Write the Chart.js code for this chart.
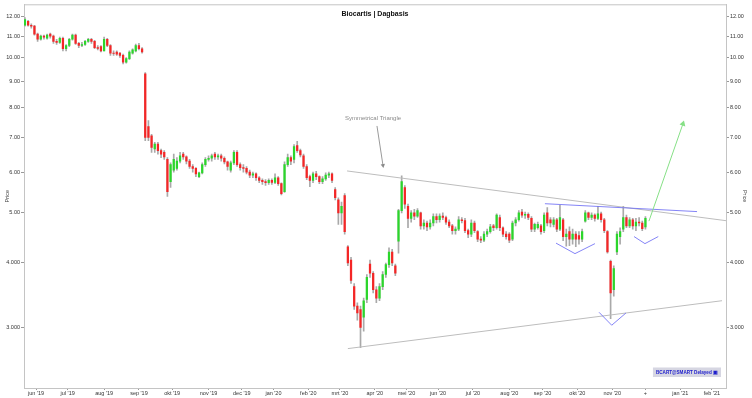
<!DOCTYPE html>
<html>
<head>
<meta charset="utf-8">
<script src="https://cdn.jsdelivr.net/npm/chart.js@4.4.0/dist/chart.umd.min.js"></script>
<style>
  html, body { margin: 0; padding: 0; background: #fff; }
  canvas { display: block; }
</style>
</head>
<body>
<canvas id="chart" width="752" height="398"></canvas>
<script>
/* Biocartis daily candles, one candle per 2 trading sessions (session 0 = 3 jun 2019) */
const FIRST_SESSION = -7;
const SESSION_STEP = 2;

const opens = [
  11.55, 11.75, 11.55, 11.5, 11.1, 10.85, 11.0, 10.9, 11.1, 11.0,
  10.75, 10.7, 10.9, 10.4, 10.55, 10.85, 11.05, 10.65, 10.55, 10.6,
  10.75, 10.85, 10.75, 10.45, 10.5, 10.3, 10.85, 10.55, 10.2, 10.25,
  10.2, 10.1, 9.8, 9.95, 10.2, 10.3, 10.55, 10.4, 9.3, 7.35,
  7.05, 6.65, 6.8, 6.6, 6.55, 6.35, 5.75, 6.05, 6.1, 6.3,
  6.5, 6.42, 6.3, 6.15, 6.1, 5.88, 5.98, 6.2, 6.35, 6.38,
  6.5, 6.42, 6.45, 6.38, 6.28, 6.05, 6.25, 6.55, 6.2, 6.12,
  6.1, 6.0, 5.92, 5.95, 5.85, 5.78, 5.75, 5.72, 5.78, 5.73,
  5.85, 5.7, 5.5, 6.2, 6.4, 6.35, 6.75, 6.6, 6.45, 6.15,
  5.88, 5.78, 5.95, 5.88, 5.75, 5.82, 5.92, 5.95, 5.55, 5.3,
  5.0, 5.4, 4.3, 4.05, 3.6, 3.3, 3.25, 3.14, 3.4, 3.98,
  3.82, 3.55, 3.42, 3.6, 3.8, 3.97, 4.2, 3.95, 4.41, 5.05,
  5.6, 5.15, 4.88, 5.0, 4.93, 5.0, 4.72, 4.78, 4.7, 4.78,
  4.92, 4.85, 4.93, 4.9, 4.8, 4.72, 4.62, 4.65, 4.85, 4.83,
  4.62, 4.55, 4.78, 4.6, 4.45, 4.43, 4.55, 4.6, 4.72, 4.68,
  4.9, 4.68, 4.55, 4.55, 4.45, 4.78, 4.85, 5.02, 4.95, 4.97,
  4.88, 4.65, 4.68, 4.72, 4.62, 5.0, 4.85, 4.75, 4.85, 4.65,
  4.85, 4.5, 4.6, 4.45, 4.55, 4.52, 4.45, 4.82, 5.0, 4.9,
  4.95, 4.88, 4.98, 4.85, 4.6, 4.03, 3.55, 4.2, 4.5, 4.65,
  4.9, 4.72, 4.85, 4.72, 4.8, 4.78, 4.7
];
const highs = [
  11.95, 11.8, 11.62, 11.55, 11.15, 11.05, 11.05, 11.1, 11.15, 11.05,
  10.85, 10.95, 10.95, 10.6, 10.9, 11.1, 11.1, 10.7, 10.7, 10.8,
  10.9, 10.9, 10.8, 10.55, 10.55, 10.95, 10.9, 10.6, 10.3, 10.3,
  10.22, 10.15, 10.0, 10.3, 10.4, 10.62, 10.65, 10.45, 9.35, 7.55,
  7.1, 6.85, 6.85, 6.65, 6.6, 6.4, 6.25, 6.5, 6.4, 6.55,
  6.55, 6.45, 6.35, 6.2, 6.12, 6.0, 6.25, 6.4, 6.45, 6.5,
  6.55, 6.5, 6.5, 6.42, 6.3, 6.3, 6.6, 6.6, 6.25, 6.2,
  6.15, 6.05, 6.0, 5.98, 5.88, 5.82, 5.8, 5.82, 5.82, 5.95,
  5.88, 5.72, 6.28, 6.5, 6.45, 6.78, 6.88, 6.65, 6.5, 6.2,
  5.92, 6.0, 6.02, 5.9, 5.88, 5.98, 6.0, 5.98, 5.6, 5.35,
  5.25, 5.45, 4.32, 4.1, 3.65, 3.35, 3.3, 3.42, 3.8, 4.05,
  3.85, 3.6, 3.65, 3.85, 4.0, 4.28, 4.25, 3.98, 5.08, 5.9,
  5.65, 5.2, 5.05, 5.08, 5.1, 5.02, 4.85, 4.82, 4.85, 4.98,
  4.98, 4.98, 5.0, 4.93, 4.85, 4.75, 4.7, 4.92, 4.9, 4.88,
  4.65, 4.85, 4.82, 4.62, 4.5, 4.6, 4.65, 4.75, 4.75, 4.98,
  4.95, 4.7, 4.6, 4.58, 4.82, 4.9, 5.05, 5.08, 5.02, 5.0,
  4.92, 4.78, 4.8, 4.75, 5.0, 5.12, 4.9, 4.9, 4.88, 5.17,
  4.88, 4.65, 4.7, 4.65, 4.6, 4.6, 4.65, 5.05, 5.02, 5.0,
  4.98, 5.15, 5.02, 4.88, 4.62, 4.05, 3.95, 4.6, 4.68, 5.15,
  4.95, 4.9, 4.88, 4.88, 4.9, 4.82, 4.92
];
const lows = [
  11.5, 11.5, 11.4, 11.05, 10.75, 10.8, 10.85, 10.85, 10.9, 10.65,
  10.6, 10.65, 10.3, 10.3, 10.5, 10.8, 10.6, 10.45, 10.5, 10.55,
  10.7, 10.65, 10.4, 10.35, 10.25, 10.3, 10.5, 10.1, 10.1, 10.1,
  10.0, 9.72, 9.75, 9.9, 10.15, 10.25, 10.35, 10.2, 6.9, 6.9,
  6.55, 6.55, 6.5, 6.4, 6.35, 5.38, 5.6, 6.0, 6.05, 6.25,
  6.35, 6.22, 6.1, 6.0, 5.88, 5.85, 5.95, 6.15, 6.3, 6.3,
  6.35, 6.35, 6.3, 6.22, 6.05, 6.0, 6.2, 6.15, 6.05, 6.0,
  5.95, 5.85, 5.85, 5.78, 5.72, 5.68, 5.65, 5.68, 5.68, 5.7,
  5.65, 5.42, 5.48, 6.15, 6.2, 6.25, 6.55, 6.42, 6.1, 5.8,
  5.62, 5.72, 5.8, 5.7, 5.7, 5.78, 5.85, 5.72, 5.3, 4.75,
  4.75, 4.55, 3.95, 3.65, 3.25, 3.1, 2.74, 2.95, 3.35, 3.75,
  3.5, 3.35, 3.38, 3.55, 3.75, 3.92, 3.95, 3.78, 4.18, 5.0,
  5.1, 4.68, 4.8, 4.85, 4.9, 4.65, 4.65, 4.62, 4.65, 4.72,
  4.78, 4.8, 4.85, 4.75, 4.68, 4.55, 4.55, 4.62, 4.78, 4.58,
  4.48, 4.5, 4.58, 4.4, 4.38, 4.4, 4.5, 4.57, 4.62, 4.65,
  4.62, 4.5, 4.45, 4.38, 4.42, 4.72, 4.82, 4.9, 4.88, 4.85,
  4.6, 4.6, 4.65, 4.55, 4.58, 4.72, 4.7, 4.7, 4.6, 4.62,
  4.42, 4.31, 4.32, 4.35, 4.3, 4.35, 4.4, 4.8, 4.85, 4.85,
  4.82, 4.85, 4.8, 4.58, 4.18, 3.12, 3.45, 4.15, 4.35, 4.6,
  4.68, 4.68, 4.65, 4.62, 4.72, 4.62, 4.65
];
const closes = [
  11.85, 11.55, 11.5, 11.1, 10.85, 11.0, 10.95, 11.05, 11.0, 10.75,
  10.7, 10.9, 10.4, 10.55, 10.85, 11.05, 10.65, 10.55, 10.6, 10.75,
  10.85, 10.75, 10.45, 10.42, 10.3, 10.85, 10.55, 10.2, 10.18, 10.15,
  10.1, 9.8, 9.95, 10.25, 10.35, 10.55, 10.4, 10.25, 7.0, 7.0,
  6.7, 6.8, 6.6, 6.5, 6.42, 5.5, 6.2, 6.35, 6.3, 6.45,
  6.42, 6.3, 6.15, 6.1, 5.95, 5.98, 6.2, 6.35, 6.38, 6.45,
  6.42, 6.45, 6.38, 6.28, 6.15, 6.25, 6.55, 6.2, 6.12, 6.1,
  6.0, 5.92, 5.95, 5.85, 5.78, 5.75, 5.72, 5.78, 5.73, 5.85,
  5.7, 5.45, 6.2, 6.4, 6.3, 6.72, 6.6, 6.48, 6.15, 5.85,
  5.78, 5.95, 5.88, 5.75, 5.82, 5.92, 5.95, 5.78, 5.35, 5.0,
  5.15, 4.6, 4.0, 3.7, 3.3, 3.2, 3.0, 3.38, 3.75, 3.82,
  3.55, 3.42, 3.6, 3.8, 3.97, 4.2, 4.0, 3.82, 5.05, 5.75,
  5.2, 4.88, 5.0, 4.93, 5.05, 4.72, 4.78, 4.7, 4.78, 4.92,
  4.85, 4.93, 4.9, 4.8, 4.72, 4.62, 4.65, 4.85, 4.83, 4.62,
  4.55, 4.78, 4.62, 4.45, 4.43, 4.55, 4.6, 4.7, 4.68, 4.95,
  4.68, 4.55, 4.5, 4.43, 4.78, 4.85, 5.0, 4.95, 4.97, 4.9,
  4.65, 4.75, 4.75, 4.6, 4.95, 4.78, 4.78, 4.85, 4.65, 4.9,
  4.5, 4.55, 4.45, 4.55, 4.45, 4.45, 4.6, 5.0, 4.9, 4.95,
  4.88, 4.98, 4.85, 4.62, 4.2, 3.5, 3.9, 4.55, 4.6, 4.9,
  4.72, 4.85, 4.72, 4.8, 4.78, 4.66, 4.88
];

// x axis: month starts in trading sessions
const monthSessions = [0, 20, 43, 65, 86, 109, 130, 150, 172, 192, 214, 234, 254, 276, 299, 320, 342, 364, 385, 407, 427];
const monthLabels = ["jun '19", "jul '19", "aug '19", "sep '19", "okt '19", "nov '19", "dec '19", "jan '20", "feb '20", "mrt '20",
  "apr '20", "mei '20", "jun '20", "jul '20", "aug '20", "sep '20", "okt '20", "nov '20", "+", "jan '21", "feb '21"];
const X_MIN = -7.6, X_MAX = 435.9;

// y axis (log)
const yTickValues = [3, 4, 5, 6, 7, 8, 9, 10, 11, 12];
const yTickLabels = ['3.000', '4.000', '5.00', '6.00', '7.00', '8.00', '9.00', '10.00', '11.00', '12.00'];
const Y_MIN = 2.29, Y_MAX = 12.68;

// drawn annotations (session, price)
const triangleUpper = [{x: 196.5, y: 6.03}, {x: 435.9, y: 4.83}];
const triangleLower = [{x: 197, y: 2.73}, {x: 433.4, y: 3.38}];
const resistance = [{x: 321.5, y: 5.21}, {x: 417.6, y: 5.03}];
const vShape1 = [{x: 328.5, y: 4.37}, {x: 340.5, y: 4.17}, {x: 353.1, y: 4.36}];
const vShape2 = [{x: 355.7, y: 3.21}, {x: 363.7, y: 3.03}, {x: 372.7, y: 3.20}];
const vShape3 = [{x: 377.8, y: 4.50}, {x: 384.7, y: 4.36}, {x: 393.1, y: 4.50}];
const breakoutArrow = [{x: 387.2, y: 4.82}, {x: 408.7, y: 7.44}];
const labelArrow = [{x: 215.4, y: 7.37}, {x: 219.2, y: 6.18}];
const labelPos = {x: 195.2, y: 7.63};

const FONT = '"Liberation Sans", Arial, sans-serif';
const RED = '#f42626', GREEN = '#2bd62b', WICK = '#a9a9a9';
const BLUE = 'rgba(110,110,245,0.85)', GREY_LINE = '#bdbdbd';

Chart.defaults.font.family = FONT;

const sessions = opens.map((_, i) => FIRST_SESSION + i * SESSION_STEP);
const bodyData = sessions.map((s, i) => ({x: s, y: [opens[i], closes[i]]}));
const wickData = sessions.map((s, i) => ({x: s, y: [lows[i], highs[i]]}));
const bodyColors = sessions.map((_, i) => closes[i] > opens[i] ? GREEN : closes[i] < opens[i] ? RED : WICK);

function lineSet(data, color, extra) {
    return Object.assign({
        type: 'line', data, borderColor: color, borderWidth: 1,
        pointRadius: 0, fill: false, tension: 0, yAxisID: 'y'
    }, extra || {});
}

const yTicks = {
    autoSkip: false, padding: 1, color: '#333', font: {size: 5.5},
    callback: v => yTickLabels[yTickValues.indexOf(v)]
};
const yTitle = {display: true, text: 'Price', color: '#444', font: {size: 5.5}, padding: {top: 4, bottom: 0}};

/* ── texts on top of the plot ── */
const overlay = {
    id: 'overlay',
    afterDraw(chart) {
        const {ctx, chartArea: a, scales: {x, y}} = chart;
        ctx.save();
        ctx.strokeStyle = '#c4c4c4';
        ctx.lineWidth = 1;
        ctx.beginPath();
        ctx.moveTo(a.left, a.top + 0.5);
        ctx.lineTo(a.right, a.top + 0.5);
        ctx.stroke();

        ctx.fillStyle = '#111';
        ctx.font = 'bold 7px ' + FONT;
        ctx.textAlign = 'center';
        ctx.textBaseline = 'middle';
        ctx.fillText('Biocartis | Dagbasis', (a.left + a.right) / 2, a.top + 10);

        ctx.fillStyle = '#8a8a8a';
        ctx.font = '6px ' + FONT;
        ctx.textAlign = 'left';
        ctx.fillText('Symmetrical Triangle', x.getPixelForValue(labelPos.x), y.getPixelForValue(labelPos.y));

        // data-vendor badge
        const badge = 'BCART@SMART Delayed \u25A3';
        ctx.font = 'bold 4.6px ' + FONT;
        const bw = ctx.measureText(badge).width + 6, bh = 9.5;
        const bx = a.right - 5 - bw, by = a.bottom - 11 - bh;
        ctx.fillStyle = '#d6d6e2';
        ctx.fillRect(bx, by, bw, bh);
        ctx.fillStyle = '#1c1ccc';
        ctx.fillText(badge, bx + 3, by + bh / 2 + 0.5);
        ctx.restore();
    }
};

new Chart(document.getElementById('chart'), {
    type: 'bar',
    data: {
        datasets: [
            lineSet(breakoutArrow, '#86e086', {
                pointRadius: [0, 3.5], pointStyle: 'triangle', rotation: 17,
                pointBackgroundColor: '#86e086', pointBorderWidth: 0
            }),
            lineSet(labelArrow, '#9a9a9a', {
                pointRadius: [0, 2.5], pointStyle: 'triangle', rotation: 171,
                pointBackgroundColor: '#8a8a8a', pointBorderWidth: 0
            }),
            lineSet(resistance, BLUE),
            lineSet(vShape1, BLUE),
            lineSet(vShape2, BLUE),
            lineSet(vShape3, BLUE),
            lineSet(triangleUpper, GREY_LINE),
            lineSet(triangleLower, GREY_LINE),
            {
                type: 'bar', data: bodyData, backgroundColor: bodyColors,
                barThickness: 1.6, grouped: false, borderWidth: 0, yAxisID: 'y'
            },
            {
                type: 'bar', data: wickData, backgroundColor: WICK,
                barThickness: 1, grouped: false, borderWidth: 0, yAxisID: 'y'
            }
        ]
    },
    options: {
        responsive: false,
        animation: false,
        layout: {padding: {top: 1, left: 0, right: 0, bottom: 0}},
        plugins: {legend: {display: false}, tooltip: {enabled: false}},
        scales: {
            x: {
                type: 'linear', min: X_MIN, max: X_MAX, offset: false,
                grid: {display: true, drawOnChartArea: false, tickLength: 2, offset: false, color: '#999'},
                border: {display: true, color: '#c4c4c4'},
                ticks: {
                    autoSkip: false, maxRotation: 0, padding: 0, color: '#333', font: {size: 5.5},
                    callback: v => monthLabels[monthSessions.indexOf(v)]
                },
                afterBuildTicks: s => { s.ticks = monthSessions.map(v => ({value: v})); },
                afterFit: s => { s.height = 10; }
            },
            y: {
                type: 'logarithmic', position: 'left', min: Y_MIN, max: Y_MAX,
                grid: {display: true, drawOnChartArea: false, tickLength: 3, color: '#999'},
                border: {display: true, color: '#c4c4c4'},
                ticks: yTicks, title: yTitle,
                afterBuildTicks: s => { s.ticks = yTickValues.map(v => ({value: v})); },
                afterFit: s => { s.width = 24; }
            },
            y2: {
                type: 'logarithmic', position: 'right', min: Y_MIN, max: Y_MAX,
                grid: {display: true, drawOnChartArea: false, tickLength: 3, color: '#999'},
                border: {display: true, color: '#c4c4c4'},
                ticks: yTicks, title: yTitle,
                afterBuildTicks: s => { s.ticks = yTickValues.map(v => ({value: v})); },
                afterFit: s => { s.width = 26; }
            }
        }
    },
    plugins: [overlay]
});
</script>
</body>
</html>
